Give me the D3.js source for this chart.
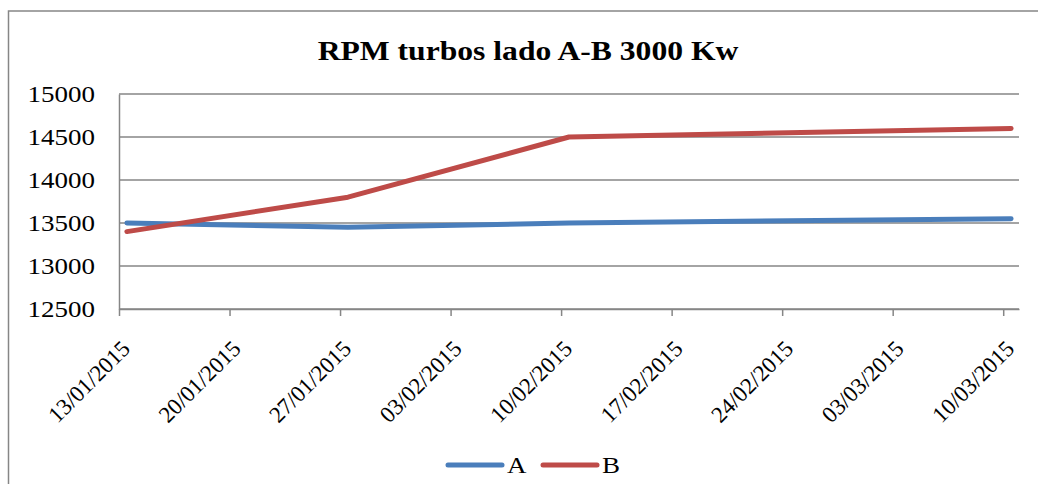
<!DOCTYPE html>
<html>
<head>
<meta charset="utf-8">
<script src="https://cdn.jsdelivr.net/npm/d3@7"></script>
<style>
  html, body { margin: 0; padding: 0; background: #fff; }
  svg { display: block; font-family: "Liberation Serif", "Times New Roman", serif; }
</style>
</head>
<body>
<div id="chart"></div>
<script>
const dates = ["13/01/2015", "27/01/2015", "10/02/2015", "10/03/2015"];
const seriesA = [13500, 13450, 13500, 13550];
const seriesB = [13400, 13800, 14500, 14600];
const yTicks = [12500, 13000, 13500, 14000, 14500, 15000];
const seriesNames = ["A", "B"];
const seriesColors = ["#4A7EBB", "#BE4B48"];

(function() {
    const width = 1038;
    const height = 484;
    const margin = {left: 119, right: 1038 - 1019, top: 94, bottom: 484 - 309};
    const stretch = 1.15; // the original picture is a bit wider than tall

    const parse = d3.timeParse("%d/%m/%Y");
    const fmt = d3.timeFormat("%d/%m/%Y");
    const first = parse(dates[0]);
    const last = parse(dates[dates.length - 1]);

    // Excel date axis: each day is a slot, points sit in the middle of their day
    const x = d3.scaleTime()
        .domain([first, d3.timeDay.offset(last, 1)])
        .range([margin.left, width - margin.right]);
    const y = d3.scaleLinear()
        .domain([12500, 15000])
        .range([height - margin.bottom, margin.top]);

    const svg = d3.select("#chart").append("svg")
        .attr("width", width)
        .attr("height", height);

    // outer chart border (continues past the window)
    svg.append("rect")
        .attr("x", 8.5).attr("y", 11)
        .attr("width", 1100).attr("height", 600)
        .attr("fill", "none")
        .attr("stroke", "#868686")
        .attr("stroke-width", 1.5);

    svg.append("text")
        .attr("transform", `translate(528,60) scale(${stretch},1)`)
        .attr("text-anchor", "middle")
        .attr("font-size", 27.5)
        .attr("font-weight", "bold")
        .text("RPM turbos lado A-B 3000 Kw");

    // gridlines
    svg.append("g")
        .selectAll("line")
        .data(yTicks)
        .join("line")
        .attr("x1", margin.left).attr("x2", width - margin.right)
        .attr("y1", d => y(d)).attr("y2", d => y(d))
        .attr("stroke", "#868686")
        .attr("stroke-width", 1.5);

    // y axis
    const yAxis = svg.append("g")
        .attr("transform", `translate(${margin.left},0)`)
        .call(d3.axisLeft(y).tickValues(yTicks).tickSize(0).tickFormat(d3.format("d")));
    yAxis.select(".domain").attr("stroke", "#868686").attr("stroke-width", 1.5);
    yAxis.selectAll("text")
        .attr("font-family", "Liberation Serif, Times New Roman, serif")
        .attr("font-size", 23.5)
        .attr("fill", "#000")
        .attr("x", 0)
        .attr("transform", `translate(-24,0) scale(${stretch},1)`);

    // x axis, a tick every 7 days from the first date
    const xTicks = d3.range(0, d3.timeDay.count(first, last) + 1, 7).map(k => d3.timeDay.offset(first, k));
    const xAxis = svg.append("g")
        .attr("transform", `translate(0,${height - margin.bottom})`)
        .call(d3.axisBottom(x).tickValues(xTicks).tickSizeInner(7).tickSizeOuter(0).tickFormat(fmt));
    xAxis.select(".domain").attr("stroke", "#868686").attr("stroke-width", 1.5);
    xAxis.selectAll(".tick line").attr("stroke", "#868686").attr("stroke-width", 1.5);
    xAxis.selectAll("text")
        .attr("font-family", "Liberation Serif, Times New Roman, serif")
        .attr("font-size", 23)
        .attr("fill", "#000")
        .attr("text-anchor", "end")
        .attr("dy", null)
        .attr("y", 0)
        .attr("transform", "translate(12,41) rotate(-45)");

    const line = d3.line()
        .x(d => x(d3.timeHour.offset(parse(d[0]), 12)))
        .y(d => y(d[1]));

    const series = [seriesA, seriesB];
    svg.append("g")
        .selectAll("path")
        .data(series)
        .join("path")
        .attr("d", s => line(dates.map((d, i) => [d, s[i]])))
        .attr("fill", "none")
        .attr("stroke", (d, i) => seriesColors[i])
        .attr("stroke-width", 5)
        .attr("stroke-linecap", "round")
        .attr("stroke-linejoin", "round");

    // legend
    const legend = svg.append("g")
        .selectAll("g")
        .data(seriesNames)
        .join("g")
        .attr("transform", (d, i) => `translate(${448 + i * 95},465)`);
    legend.append("line")
        .attr("x1", 0).attr("x2", 54)
        .attr("stroke", (d, i) => seriesColors[i])
        .attr("stroke-width", 5)
        .attr("stroke-linecap", "round");
    legend.append("text")
        .attr("transform", `translate(59,8) scale(${stretch},1)`)
        .attr("font-size", 23.5)
        .text(d => d);
}());
</script>
</body>
</html>
